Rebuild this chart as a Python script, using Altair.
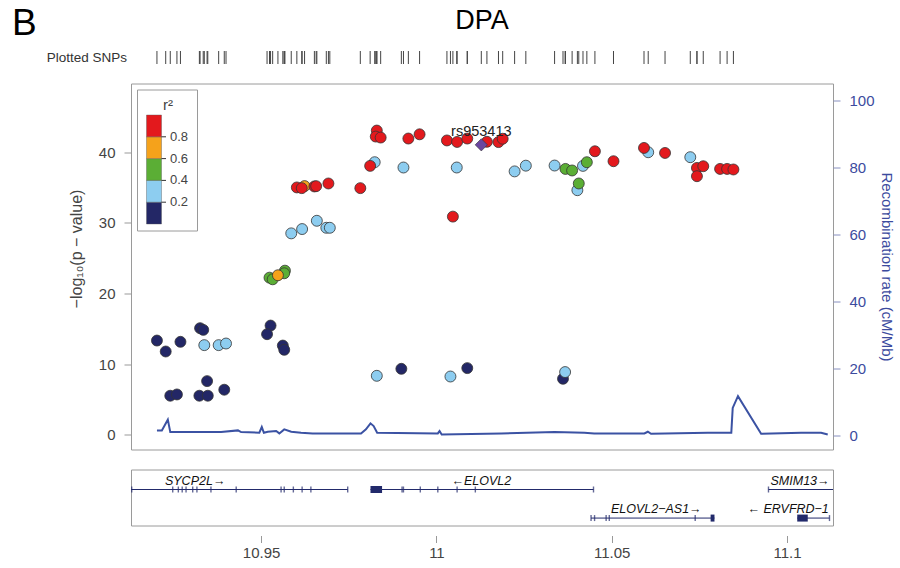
import altair as alt
import pandas as pd

# ---------------------------------------------------------------------------
# Association results for the DPA locus (chr position in Mb, -log10 p, LD r2)
# ---------------------------------------------------------------------------
snp_pos = [
    # r2 < 0.2
    10.9203, 10.9228, 10.9270, 10.9326, 10.9335, 10.9527, 10.9517, 10.9562, 10.9566,
    10.9241, 10.9260, 10.9346, 10.9324, 10.9348, 10.9395, 10.9900, 11.0088, 11.0361,
    # 0.2 - 0.4
    10.9338, 10.9379, 10.9400, 10.9830, 11.0040, 11.0367, 10.9586, 10.9617, 10.9659,
    10.9686, 10.9696, 10.9824, 10.9906, 11.0058, 11.0223, 11.0255, 11.0337, 11.0418,
    11.0402, 11.0604, 11.0724,
    # 0.4 - 0.6
    10.9524, 10.9533, 10.9568, 10.9566, 11.0368, 11.0387, 11.0429, 11.0406,
    # 0.6 - 0.8
    10.9548, 10.9624,
    # >= 0.8
    10.9602, 10.9616, 10.9652, 10.9657, 10.9692, 10.9783, 10.9811, 10.9830, 10.9827,
    10.9841, 10.9920, 10.9952, 11.0030, 11.0059, 11.0088, 11.0144, 11.0177, 11.0189,
    11.0047, 11.0452, 11.0505, 11.0592, 11.0652, 11.0743, 11.0761, 11.0743, 11.0809,
    11.0829, 11.0847,
]
snp_logp = [
    13.32, 11.77, 13.14, 15.07, 14.83, 15.44, 14.22, 12.61, 12.01,
    5.51, 5.69, 7.58, 5.51, 5.51, 6.36, 9.32, 9.42, 7.91,
    12.67, 12.67, 12.90, 8.33, 8.23, 8.86, 28.49, 29.10, 30.27,
    29.28, 29.28, 38.56, 37.81, 37.81, 37.26, 38.07, 38.09, 38.04,
    34.60, 39.97, 39.27,
    22.22, 21.99, 23.21, 22.84, 37.61, 37.39, 38.56, 35.55,
    22.56, 35.18,
    34.99, 34.89, 35.13, 35.17, 35.55, 34.89, 38.04, 43.04, 42.19,
    42.05, 41.91, 42.51, 41.64, 41.43, 41.91, 41.45, 41.41, 41.88,
    30.86, 40.11, 38.70, 40.58, 39.87, 37.75, 37.99, 36.58, 37.61,
    37.61, 37.53,
]
snp_r2 = [0.1] * 18 + [0.3] * 21 + [0.5] * 8 + [0.7] * 2 + [0.9] * 29

lead_name = ["rs953413"]
lead_pos = [11.0128]
lead_logp = [41.02]

# Recombination rate (cM/Mb)
recomb_pos = [
    10.9203, 10.9217, 10.9226, 10.9234, 10.9241, 10.9386, 10.9434, 10.9443, 10.9495,
    10.9502, 10.9508, 10.9519, 10.9543, 10.9552, 10.9566, 10.9586, 10.9614, 10.9647,
    10.9785, 10.9799, 10.9812, 10.9821, 10.9831, 11.0004, 11.0009, 11.0015, 11.0185,
    11.0337, 11.0422, 11.0450, 11.0593, 11.0603, 11.0612, 11.0774, 11.0841, 11.0845,
    11.0860, 11.0926, 11.1040, 11.1097, 11.1116,
]
recomb_rate = [
    1.5, 1.5, 3.2, 4.7, 1.0, 1.0, 1.5, 1.0, 0.8,
    2.5, 0.8, 1.1, 1.3, 0.6, 1.8, 1.1, 0.8, 0.6,
    0.6, 1.8, 3.6, 2.8, 0.8, 0.6, 1.3, 0.3, 0.6,
    1.0, 0.8, 0.6, 0.6, 1.1, 0.5, 0.8, 0.8, 8.2,
    11.7, 0.5, 0.8, 0.8, 0.3,
]

# Gene track
gene_names = ["SYCP2L", "ELOVL2", "SMIM13", "ELOVL2-AS1", "ERVFRD-1"]
gene_start = [10.9000, 10.9812, 11.0947, 11.0441, 11.1029]
gene_end = [10.9747, 11.0448, 11.1250, 11.0793, 11.1121]
gene_row = [1, 1, 1, 2, 2]
gene_labels = ["SYCP2L\u2192", "\u2190ELOVL2", "SMIM13\u2192", "ELOVL2\u2212AS1\u2192", "\u2190 ERVFRD\u22121"]
label_pos = [10.9312, 11.0128, 11.1037, 11.0627, 11.1003]

exon_pos = [
    10.9131, 10.9248, 10.9264, 10.9275, 10.9286, 10.9305, 10.9317, 10.9357, 10.9429,
    10.9557, 10.9566, 10.9592, 10.9617, 10.9642, 10.9747, 10.9902, 10.9906, 10.9954,
    11.0004, 11.0059, 11.0111, 11.0448, 11.0947,
    11.0441, 11.0451, 11.0484, 11.0493, 11.0738, 11.1121,
]
exon_row = [1] * 23 + [2] * 6
block_start = [10.9812, 11.0782, 11.1029]
block_end = [10.9845, 11.0793, 11.1059]
block_row = [1, 2, 2]

# r2 bins and colours
r2_breaks = [0.2, 0.4, 0.6, 0.8]
r2_colors = ["#232766", "#8dcdf0", "#5bae35", "#f5a21b", "#e3191d"]

FONT = "Liberation Sans"
NAVY = "#222a6b"
RECOMB = "#3b52a3"
AXIS_BLUE = "#3c4b9e"
W = 702

x_scale = alt.Scale(domain=[10.9129, 11.1131], nice=False, zero=False)
r2_scale = alt.Scale(type="threshold", domain=r2_breaks, range=r2_colors)

snps = pd.DataFrame({"pos": snp_pos, "logp": snp_logp, "r2": snp_r2})
lead = pd.DataFrame({"pos": lead_pos, "logp": lead_logp, "name": lead_name})
recomb = pd.DataFrame({"pos": recomb_pos, "rate": recomb_rate})
genes = pd.DataFrame({"start": gene_start, "end": gene_end, "row": gene_row, "name": gene_names})
labels = pd.DataFrame({"pos": label_pos, "row": gene_row, "label": gene_labels})
exons = pd.DataFrame({"pos": exon_pos, "row": exon_row})
blocks = pd.DataFrame({"start": block_start, "end": block_end, "row": block_row})

# --- rug of plotted SNPs with panel heading ---------------------------------
rug_df = pd.DataFrame({"pos": snp_pos + lead_pos})
rug = alt.Chart(rug_df).mark_rule(color="#444", strokeWidth=1).encode(
    x=alt.X("pos:Q", scale=x_scale, axis=None),
    y=alt.value(3),
    y2=alt.value(16),
)
rug_label = alt.Chart(pd.DataFrame({"t": ["Plotted SNPs"]})).mark_text(
    align="right", baseline="middle", fontSize=13.5, color="#333", font=FONT
).encode(text="t:N", x=alt.value(-4), y=alt.value(10))
panel_letter = alt.Chart(pd.DataFrame({"t": ["B"]})).mark_text(
    align="left", baseline="top", fontSize=37, color="#000", font=FONT
).encode(text="t:N", x=alt.value(-119), y=alt.value(-42))
heading = alt.Chart(pd.DataFrame({"t": ["DPA"]})).mark_text(
    align="center", baseline="alphabetic", fontSize=27, color="#000", font=FONT
).encode(text="t:N", x=alt.value(W / 2), y=alt.value(-19.5))

top = alt.layer(rug, rug_label, panel_letter, heading).properties(
    width=W, height=13, view=alt.ViewBackground(stroke=None)
)

# --- association panel -------------------------------------------------------
recomb_line = alt.Chart(recomb).mark_line(color=RECOMB, strokeWidth=2).encode(
    x=alt.X("pos:Q", scale=x_scale, axis=None),
    y=alt.Y(
        "rate:Q",
        scale=alt.Scale(domain=[-4.2, 105.0], nice=False, zero=False),
        axis=alt.Axis(
            orient="right", title="Recombination rate (cM/Mb)", values=[0, 20, 40, 60, 80, 100],
            domain=False, grid=False, tickSize=7, tickColor="#8890c0", labelPadding=9,
            labelFontSize=15, labelColor=AXIS_BLUE, titleColor=AXIS_BLUE, titleFontSize=15,
            titleFontWeight="normal", titlePadding=4,
        ),
    ),
)

left_scale = alt.Scale(domain=[-2.1, 49.7], nice=False, zero=False)
points = alt.Chart(snps).mark_circle(size=120, opacity=1, stroke="#333", strokeWidth=0.8).encode(
    x=alt.X("pos:Q", scale=x_scale, axis=None),
    y=alt.Y(
        "logp:Q",
        scale=left_scale,
        axis=alt.Axis(
            title="\u2212log\u2081\u2080(p \u2212 value)", values=[0, 10, 20, 30, 40], domain=False,
            grid=False, tickSize=7, tickColor="#999", labelPadding=9, labelFontSize=15,
            labelColor="#444", titleColor="#444", titleFontSize=16, titleFontWeight="normal",
            titlePadding=14, titleY=165,
        ),
    ),
    color=alt.Color("r2:Q", scale=r2_scale, legend=None),
)
lead_point = alt.Chart(lead).mark_point(
    shape="diamond", filled=True, size=150, color="#6a46a0", stroke="#333", strokeWidth=0.6, opacity=1
).encode(x=alt.X("pos:Q", scale=x_scale, axis=None), y=alt.Y("logp:Q", scale=left_scale))
lead_label = alt.Chart(lead).mark_text(
    fontSize=14.5, color="#222", font=FONT, dy=-13, baseline="middle"
).encode(x=alt.X("pos:Q", scale=x_scale, axis=None), y=alt.Y("logp:Q", scale=left_scale), text="name:N")

association = alt.layer(points, lead_point, lead_label)

# r2 key drawn inside the panel: colour bins on their own 0-1 scale
bins = pd.DataFrame({"lo": [0.0] + r2_breaks, "hi": r2_breaks + [1.0]})
breaks = pd.DataFrame({"b": r2_breaks})
key_scale = alt.Scale(domain=[0, 1], range=[140.5, 31.5], nice=False, zero=False)
key_box = alt.Chart(pd.DataFrame({"k": [0]})).mark_rect(
    fill="white", stroke="#9a9a9a", strokeWidth=1
).encode(x=alt.value(6.5), x2=alt.value(66.5), y=alt.value(6.5), y2=alt.value(147.5))
key_bins = alt.Chart(bins).mark_rect(stroke="#555", strokeWidth=0.4).encode(
    x=alt.value(15.5), x2=alt.value(30.5),
    y=alt.Y("lo:Q", scale=key_scale, axis=None), y2="hi:Q",
    color=alt.Color("lo:Q", scale=r2_scale, legend=None),
)
key_ticks = alt.Chart(breaks).mark_rule(color="#333", strokeWidth=1).encode(
    x=alt.value(30.5), x2=alt.value(35), y=alt.Y("b:Q", scale=key_scale, axis=None)
)
key_labels = alt.Chart(breaks).mark_text(
    align="left", baseline="middle", fontSize=13, color="#444", font=FONT
).encode(x=alt.value(39), y=alt.Y("b:Q", scale=key_scale, axis=None), text=alt.Text("b:Q", format=".1f"))
key_title = alt.Chart(pd.DataFrame({"t": ["r\u00b2"]})).mark_text(
    align="center", baseline="alphabetic", fontSize=15, color="#444", font=FONT
).encode(text="t:N", x=alt.value(37), y=alt.value(26))
key = alt.layer(key_box, key_bins, key_ticks, key_labels, key_title)

main = alt.layer(recomb_line, association, key).resolve_scale(
    y="independent"
).properties(width=W, height=366)

# --- gene track ------------------------------------------------------------
row_scale = alt.Scale(domain=[0.3, 2.26], reverse=True, nice=False, zero=False)
gx = alt.X(
    "start:Q", scale=x_scale,
    axis=alt.Axis(
        values=[10.95, 11.0, 11.05, 11.1], format="~g", offset=10, tickSize=7, domain=False,
        grid=False, tickColor="#999", labelFontSize=15, labelColor="#444", labelPadding=3,
        title=None,
    ),
)
gene_lines = alt.Chart(genes).mark_rule(color=NAVY, strokeWidth=1, clip=True).encode(
    x=gx, x2="end:Q", y=alt.Y("row:Q", scale=row_scale, axis=None)
)
gene_blocks = alt.Chart(blocks).mark_rule(color=NAVY, strokeWidth=7).encode(
    x=alt.X("start:Q", scale=x_scale), x2="end:Q", y=alt.Y("row:Q", scale=row_scale, axis=None)
)
gene_exons = alt.Chart(exons).mark_tick(color=NAVY, orient="vertical", size=6, thickness=1.4).encode(
    x=alt.X("pos:Q", scale=x_scale), y=alt.Y("row:Q", scale=row_scale, axis=None)
)
gene_text = alt.Chart(labels).mark_text(
    fontSize=12.5, fontStyle="italic", color="#111", font=FONT, dy=-9, baseline="middle"
).encode(x=alt.X("pos:Q", scale=x_scale), y=alt.Y("row:Q", scale=row_scale, axis=None), text="label:N")

gene_panel = alt.layer(gene_lines, gene_blocks, gene_exons, gene_text).properties(width=W, height=56)

chart = alt.vconcat(top, alt.vconcat(main, gene_panel, spacing=18), spacing=17.5).properties(
    padding={"left": 12, "top": 5, "right": 5, "bottom": 5}
).configure_view(stroke="#9a9a9a", strokeWidth=1).configure_axis(
    labelFont=FONT, titleFont=FONT
).configure_text(font=FONT)

chart.save("out.html", embed_options={"renderer": "svg", "actions": False})
